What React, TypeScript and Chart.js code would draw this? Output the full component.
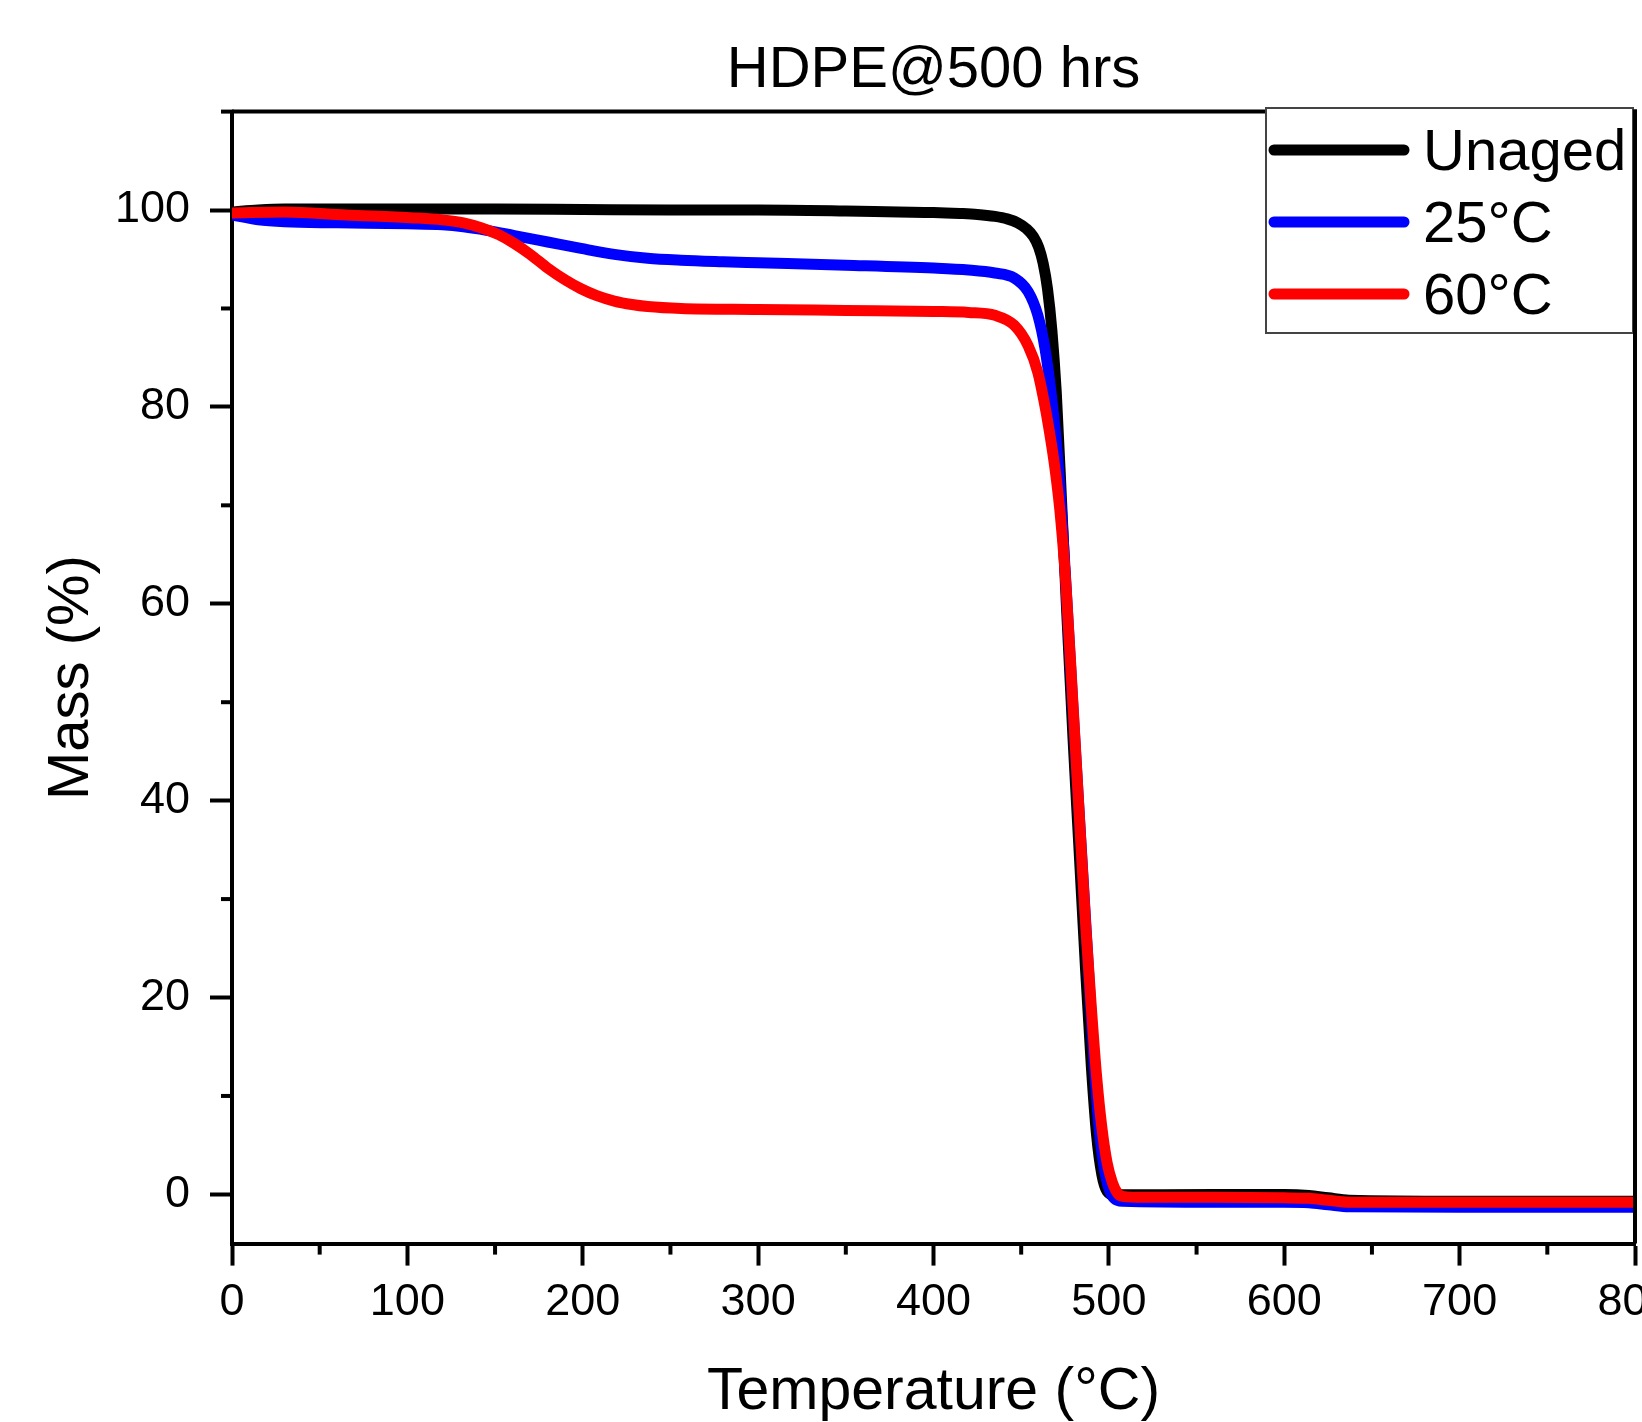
import React, { useEffect, useRef } from 'react';
import { Chart, registerables } from 'chart.js';

Chart.register(...registerables);

// ---------------- data ----------------
const TITLE = 'HDPE@500 hrs';
const X_TITLE = 'Temperature (°C)';
const Y_TITLE = 'Mass (%)';

const SERIES_LABELS = ['Unaged', '25°C', '60°C'];
const SERIES_COLORS = ['#000000', '#0000FF', '#FF0000'];

const X_TICKS = [0, 100, 200, 300, 400, 500, 600, 700, 800];
const X_MINOR_TICKS = [50, 150, 250, 350, 450, 550, 650, 750];
const Y_TICKS = [0, 20, 40, 60, 80, 100];
const Y_MINOR_TICKS = [10, 30, 50, 70, 90, 110];

const UNAGED_T = [0, 15, 30, 60, 100, 150, 200, 250, 300, 350, 380, 400, 415, 425, 435, 442, 448, 453, 457, 460, 462.5, 465, 467.5, 470, 473, 476, 479.5, 483, 486.5, 490, 493, 496, 499, 503, 560, 600, 614, 625, 637, 700, 800];
const UNAGED_M = [99.8, 100.0, 100.1, 100.1, 100.1, 100.1, 100.05, 100.0, 100.0, 99.9, 99.8, 99.75, 99.65, 99.55, 99.35, 99.1, 98.7, 98.1, 97.3, 96.2, 94.6, 92.0, 87.8, 81.5, 70.5, 59, 46.5, 35, 23.5, 13, 6, 2, 0.3, -0.05, 0, 0, -0.1, -0.35, -0.6, -0.7, -0.7];

const C25_T = [0, 15, 30, 60, 100, 120, 132, 145, 161, 180, 199, 218, 237, 256, 280, 300, 350, 400, 420, 435, 446, 454, 459.5, 463.6, 467, 470, 473, 476, 479.5, 483.5, 487.5, 491, 494, 497, 500, 503, 508, 560, 600, 614, 625, 637, 700, 800];
const C25_M = [99.5, 99.0, 98.8, 98.7, 98.6, 98.5, 98.3, 97.95, 97.4, 96.75, 96.1, 95.5, 95.1, 94.9, 94.75, 94.65, 94.4, 94.1, 93.9, 93.6, 93.1, 91.7, 89.3, 85.9, 81.5, 76.5, 69.5, 60.5, 49.5, 37.5, 25.5, 15, 7.5, 3, 0.6, -0.4, -0.7, -0.8, -0.8, -0.85, -1.05, -1.25, -1.3, -1.3];

const C60_T = [0, 30, 65, 104, 120, 132, 142, 152, 161, 170, 180, 190, 199, 208, 218, 228, 237, 256, 300, 350, 400, 420, 435, 446, 454, 459.5, 463, 466, 469, 472, 475.5, 479.3, 483.1, 486.9, 490, 493, 496, 499, 502, 505, 508, 520, 560, 600, 614, 625, 637, 700, 800];
const C60_M = [99.7, 99.8, 99.5, 99.2, 99.0, 98.7, 98.2, 97.5, 96.6, 95.5, 94.1, 92.9, 92.0, 91.3, 90.75, 90.4, 90.2, 90.0, 89.9, 89.8, 89.7, 89.6, 89.3, 88.3, 86.2, 83.5, 80.6, 77.6, 74.1, 69.6, 62, 50.5, 38.6, 27, 19, 12, 6.8, 3.2, 1.2, 0.1, -0.2, -0.3, -0.3, -0.35, -0.4, -0.6, -0.8, -0.8, -0.8];

const SERIES_T = [UNAGED_T, C25_T, C60_T];
const SERIES_M = [UNAGED_M, C25_M, C60_M];

// ---------------- style ----------------
const FONT = "'Liberation Sans', Arial, Helvetica, sans-serif";

const framePlugin = {
  id: 'frameAndLegend',
  afterDraw(chart: any) {
    const { ctx, chartArea: a, scales } = chart;
    const xs = scales.x;
    const ys = scales.y;
    ctx.save();
    ctx.strokeStyle = '#000';
    ctx.lineWidth = 4;
    ctx.lineCap = 'butt';
    const line = (x1: number, y1: number, x2: number, y2: number) => {
      ctx.beginPath();
      ctx.moveTo(x1, y1);
      ctx.lineTo(x2, y2);
      ctx.stroke();
    };
    // minor ticks
    X_MINOR_TICKS.forEach((v) => {
      const px = xs.getPixelForValue(v);
      line(px, a.bottom, px, a.bottom + 11);
    });
    Y_MINOR_TICKS.forEach((v) => {
      const py = ys.getPixelForValue(v);
      line(a.left - 11, py, a.left + 2, py);
    });
    // top frame
    line(a.left, a.top, a.right + 2, a.top);

    // legend box
    const right = a.right - 2;
    const width = 367;
    const left = right - width;
    const top = a.top - 3.6;
    const height = 225;
    ctx.fillStyle = '#fff';
    ctx.fillRect(left, top, width, height);
    ctx.strokeStyle = '#444';
    ctx.lineWidth = 2;
    ctx.strokeRect(left, top, width, height);

    chart.data.datasets.forEach((ds: any, i: number) => {
      const ly = top + 42 + i * 72;
      ctx.strokeStyle = ds.borderColor;
      ctx.lineWidth = 11;
      ctx.lineCap = 'round';
      line(left + 8, ly, left + 138, ly);
      ctx.fillStyle = '#000';
      ctx.font = `58px ${FONT}`;
      ctx.textAlign = 'left';
      ctx.textBaseline = 'alphabetic';
      ctx.fillText(ds.label, left + 157, ly + 20);
    });

    // right frame
    ctx.strokeStyle = '#000';
    ctx.lineWidth = 4;
    ctx.lineCap = 'butt';
    line(a.right, a.top - 2, a.right, a.bottom);
    ctx.restore();
  },
};

export default function App() {
  const canvasRef = useRef<HTMLCanvasElement | null>(null);

  useEffect(() => {
    if (!canvasRef.current) return;
    const datasets = SERIES_LABELS.map((label, i) => ({
      label,
      data: SERIES_T[i].map((t, j) => ({ x: t, y: SERIES_M[i][j] })),
      borderColor: SERIES_COLORS[i],
      backgroundColor: SERIES_COLORS[i],
      borderWidth: 11,
      pointRadius: 0,
      cubicInterpolationMode: 'monotone' as const,
      borderCapStyle: 'round' as const,
      borderJoinStyle: 'round' as const,
      fill: false,
      order: SERIES_LABELS.length - i,
    }));

    const chart = new Chart(canvasRef.current, {
      type: 'line',
      data: { datasets },
      options: {
        responsive: false,
        animation: false,
        devicePixelRatio: 1,
        layout: { padding: { left: 0, right: 7, top: 0, bottom: 0 } },
        plugins: {
          legend: { display: false },
          tooltip: { enabled: false },
          title: {
            display: true,
            text: TITLE,
            fullSize: false,
            color: '#000',
            font: { family: FONT, size: 58, weight: 'normal', lineHeight: 1.2 },
            padding: { top: 36, bottom: 6 },
          },
        },
        scales: {
          x: {
            type: 'linear',
            min: 0,
            max: 800,
            afterBuildTicks: (s: any) => {
              s.ticks = X_TICKS.map((v) => ({ value: v }));
            },
            afterFit: (s: any) => {
              s.height = 178.4;
              s.paddingLeft = 0;
              s.paddingRight = 0;
            },
            grid: {
              display: true,
              drawOnChartArea: false,
              drawTicks: true,
              tickLength: 22,
              tickWidth: 4,
              tickColor: '#000',
            },
            border: { display: true, color: '#000', width: 4 },
            ticks: {
              color: '#000',
              font: { family: FONT, size: 45, lineHeight: 1.2 },
              padding: 10,
              maxRotation: 0,
              autoSkip: false,
              callback: (v: any) => String(v),
            },
            title: {
              display: true,
              text: X_TITLE,
              color: '#000',
              font: { family: FONT, size: 59, lineHeight: 1 },
              padding: { top: 0, bottom: 0 },
            },
          },
          y: {
            type: 'linear',
            min: -5,
            max: 110,
            afterBuildTicks: (s: any) => {
              s.ticks = Y_TICKS.map((v) => ({ value: v }));
            },
            afterFit: (s: any) => {
              s.width = 232;
              s.paddingTop = 0;
              s.paddingBottom = 0;
            },
            grid: {
              display: true,
              drawOnChartArea: false,
              drawTicks: true,
              tickLength: 22,
              tickWidth: 4,
              tickColor: '#000',
            },
            border: { display: true, color: '#000', width: 4 },
            ticks: {
              color: '#000',
              font: { family: FONT, size: 45, lineHeight: 1.2 },
              padding: 20,
              autoSkip: false,
              callback: (v: any) => String(v),
            },
            title: {
              display: true,
              text: Y_TITLE,
              color: '#000',
              font: { family: FONT, size: 58, lineHeight: 1 },
              padding: { top: 43, bottom: 0 },
            },
          },
        },
      } as any,
      plugins: [framePlugin],
    });
    return () => chart.destroy();
  }, []);

  return (
    <div style={{ position: 'absolute', left: 0, top: 0, width: 1642, height: 1422, background: '#fff' }}>
      <canvas ref={canvasRef} width={1642} height={1422} style={{ width: 1642, height: 1422, display: 'block' }} />
    </div>
  );
}
